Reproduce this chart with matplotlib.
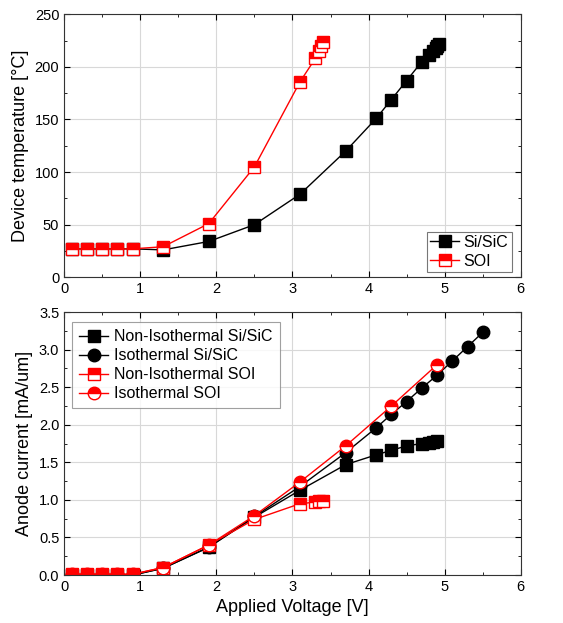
import matplotlib
matplotlib.use("Agg")
import matplotlib.pyplot as plt
from matplotlib.ticker import MultipleLocator, FormatStrFormatter

plt.rcParams["font.family"] = ["Liberation Sans", "DejaVu Sans"]

# ===== Data: device temperature =====
v_sisic_t = [0.1, 0.3, 0.5, 0.7, 0.9, 1.3, 1.9, 2.5, 3.1, 3.7, 4.1, 4.3, 4.5, 4.7, 4.8, 4.85, 4.88, 4.9, 4.92]
t_sisic = [27, 27, 27, 27, 27, 26, 34, 50, 79, 120, 151, 169, 187, 205, 211, 215, 218, 220, 222]
v_soi_t = [0.1, 0.3, 0.5, 0.7, 0.9, 1.3, 1.9, 2.5, 3.1, 3.3, 3.35, 3.38, 3.4]
t_soi = [27, 27, 27, 27, 27, 29, 51, 105, 186, 208, 215, 220, 224]

# ===== Data: anode current =====
v_ni_sisic = [0.1, 0.3, 0.5, 0.7, 0.9, 1.3, 1.9, 2.5, 3.1, 3.7, 4.1, 4.3, 4.5, 4.7, 4.8, 4.85, 4.9]
i_ni_sisic = [0.0, 0.0, 0.0, 0.0, 0.0, 0.09, 0.37, 0.77, 1.13, 1.47, 1.60, 1.66, 1.72, 1.75, 1.76, 1.77, 1.78]
v_iso_sisic = [0.1, 0.3, 0.5, 0.7, 0.9, 1.3, 1.9, 2.5, 3.1, 3.7, 4.1, 4.3, 4.5, 4.7, 4.9, 5.1, 5.3, 5.5]
i_iso_sisic = [0.0, 0.0, 0.0, 0.0, 0.0, 0.09, 0.37, 0.78, 1.18, 1.63, 1.96, 2.14, 2.31, 2.49, 2.66, 2.85, 3.04, 3.23]
v_ni_soi = [0.1, 0.3, 0.5, 0.7, 0.9, 1.3, 1.9, 2.5, 3.1, 3.3, 3.35, 3.4]
i_ni_soi = [0.01, 0.01, 0.01, 0.01, 0.01, 0.10, 0.40, 0.74, 0.95, 0.97, 0.98, 0.99]
v_iso_soi = [0.1, 0.3, 0.5, 0.7, 0.9, 1.3, 1.9, 2.5, 3.1, 3.7, 4.3, 4.9]
i_iso_soi = [0.01, 0.01, 0.01, 0.01, 0.01, 0.10, 0.40, 0.79, 1.24, 1.72, 2.25, 2.80]

fig = plt.figure(figsize=(5.63, 6.23), dpi=100)
ax1 = fig.add_axes([0.114, 0.555, 0.811, 0.422])
ax2 = fig.add_axes([0.114, 0.077, 0.811, 0.422])


def style_axes(ax):
    ax.grid(True, color="#d8d8d8", linewidth=0.8)
    ax.set_axisbelow(True)
    ax.tick_params(which="both", direction="in", top=True, right=True, labelsize=10.5)
    ax.tick_params(which="major", length=4)
    ax.tick_params(which="minor", length=2)
    ax.xaxis.set_major_locator(MultipleLocator(1))
    ax.xaxis.set_minor_locator(MultipleLocator(0.5))
    ax.set_xlim(0, 6)
    for s in ax.spines.values():
        s.set_color("#333333")


# ===== Top: temperature =====
ax1.plot(v_sisic_t, t_sisic, color="black", lw=1, marker="s", ms=8.5, label="Si/SiC")
ax1.plot(v_soi_t, t_soi, color="red", lw=1, marker="s", ms=8.5, fillstyle="top",
         markerfacecoloralt="white", label="SOI")
style_axes(ax1)
ax1.set_ylim(0, 250)
ax1.yaxis.set_major_locator(MultipleLocator(50))
ax1.yaxis.set_minor_locator(MultipleLocator(25))
ax1.set_ylabel("Device temperature [°C]", fontsize=13)
leg1 = ax1.legend(loc="lower right", fontsize=11.5, fancybox=False, edgecolor="#555555",
                  handlelength=1.8, handletextpad=0.3, borderpad=0.2, labelspacing=0.25,
                  borderaxespad=0, bbox_to_anchor=(0.98, 0.02))
leg1.get_frame().set_linewidth(0.8)

# ===== Bottom: current =====
ax2.plot(v_ni_sisic, i_ni_sisic, color="black", lw=1, marker="s", ms=8.5, label="Non-Isothermal Si/SiC")
ax2.plot(v_iso_sisic, i_iso_sisic, color="black", lw=1, marker="o", ms=9, label="Isothermal Si/SiC")
ax2.plot(v_ni_soi, i_ni_soi, color="red", lw=1, marker="s", ms=8.5, fillstyle="top",
         markerfacecoloralt="white", label="Non-Isothermal SOI")
ax2.plot(v_iso_soi, i_iso_soi, color="red", lw=1, marker="o", ms=9, fillstyle="top",
         markerfacecoloralt="white", label="Isothermal SOI")
style_axes(ax2)
ax2.set_ylim(0, 3.5)
ax2.yaxis.set_major_locator(MultipleLocator(0.5))
ax2.yaxis.set_minor_locator(MultipleLocator(0.25))
ax2.yaxis.set_major_formatter(FormatStrFormatter("%.1f"))
ax2.set_ylabel("Anode current [mA/um]", fontsize=13)
ax2.set_xlabel("Applied Voltage [V]", fontsize=13)
leg2 = ax2.legend(loc="upper left", fontsize=11.5, fancybox=False, edgecolor="#888888",
                  handlelength=1.8, handletextpad=0.4, borderpad=0.45, labelspacing=0.25,
                  borderaxespad=0, bbox_to_anchor=(0.0175, 0.962))
leg2.get_frame().set_linewidth(0.8)

fig.savefig("out.png", dpi=100)
plt.close(fig)
